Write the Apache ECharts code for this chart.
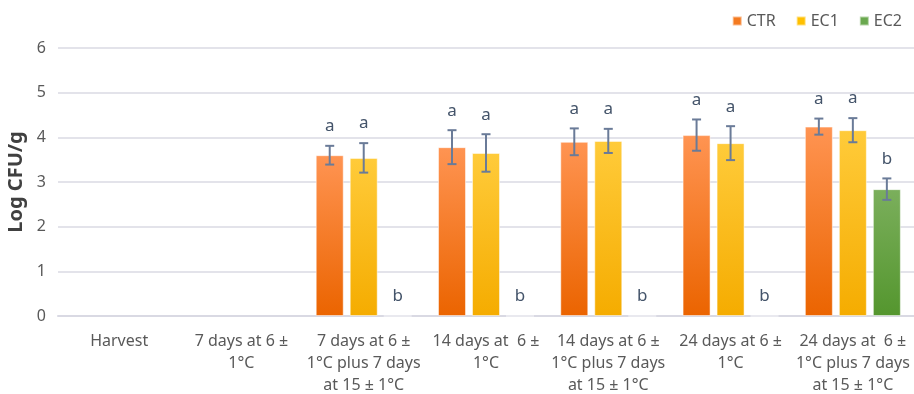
<!DOCTYPE html>
<html><head><meta charset="utf-8">
<script src="https://cdn.jsdelivr.net/npm/echarts@6/dist/echarts.min.js"></script>
<style>html,body{margin:0;padding:0;background:#fff}#c{width:914px;height:394px}</style>
</head><body><div id="c"></div>
<script>
const categories = ['Harvest', '7 days at 6 ±\n1°C', '7 days at 6 ±\n1°C plus 7 days\nat 15 ± 1°C', '14 days at  6 ±\n1°C', '14 days at 6 ±\n1°C plus 7 days\nat 15 ± 1°C', '24 days at 6 ±\n1°C', '24 days at  6 ±\n1°C plus 7 days\nat 15 ± 1°C'];
const seriesNames = ['CTR', 'EC1', 'EC2'];
const ctrValues = [null, null, 3.60, 3.78, 3.90, 4.05, 4.24];
const ec1Values = [null, null, 3.54, 3.65, 3.92, 3.87, 4.16];
const ec2Values = [null, null, 0, 0, 0, 0, 2.84];
const ctrErrors = [null, null, 0.21, 0.38, 0.30, 0.35, 0.18];
const ec1Errors = [null, null, 0.33, 0.42, 0.27, 0.38, 0.27];
const ec2Errors = [null, null, null, null, null, null, 0.24];
const ctrLetters = ['', '', 'a', 'a', 'a', 'a', 'a'];
const ec1Letters = ['', '', 'a', 'a', 'a', 'a', 'a'];
const ec2Letters = ['', '', 'b', 'b', 'b', 'b', 'b'];
const yTicks = [0, 1, 2, 3, 4, 5, 6];

const FONT = "'Noto Sans', sans-serif";
const chart = echarts.init(document.getElementById('c'), null, {renderer: 'canvas'});

function grad(top, bottom) {
  return new echarts.graphic.LinearGradient(0, 0, 0, 1, [{offset: 0, color: top}, {offset: 1, color: bottom}]);
}
const colors = [
  grad('#FF9452', '#EB6400'),
  grad('#FFCB3A', '#F5AC00'),
  grad('#7BAF5C', '#54962E')
];
const legendColors = ['#F47A20', '#FFC000', '#6AA84F'];
const BW = 28, GAP = 6;
const offsets = [-(BW + GAP), 0, BW + GAP];
const valuesAll = [ctrValues, ec1Values, ec2Values];
const errorsAll = [ctrErrors, ec1Errors, ec2Errors];
const lettersAll = [ctrLetters, ec1Letters, ec2Letters];

const series = [];
seriesNames.forEach((name, s) => {
  series.push({
    name, type: 'bar', data: valuesAll[s], barWidth: BW, barGap: (GAP / BW * 100) + '%',
    itemStyle: {color: colors[s], borderColor: 'rgba(255,255,255,0.5)', borderWidth: 1},
    emphasis: {disabled: true}
  });
});
seriesNames.forEach((name, s) => {
  const data = categories.map((c, i) => [i, valuesAll[s][i], errorsAll[s][i], lettersAll[s][i]]);
  series.push({
    type: 'custom', silent: true, z: 10,
    data,
    renderItem(params, api) {
      const i = api.value(0);
      const d = data[params.dataIndex];
      const v = d[1], e = d[2], letter = d[3];
      if (v === null || v === undefined) return null;
      const children = [];
      const base = api.coord([i, v]);
      const x = base[0] + offsets[s];
      let topY = base[1];
      if (e !== null && e !== undefined) {
        const hi = api.coord([i, v + e])[1];
        const lo = api.coord([i, v - e])[1];
        const st = {stroke: '#6A7B98', lineWidth: 2};
        children.push({type: 'line', shape: {x1: x, y1: hi, x2: x, y2: lo}, style: st});
        children.push({type: 'line', shape: {x1: x - 4.5, y1: hi, x2: x + 4.5, y2: hi}, style: st});
        children.push({type: 'line', shape: {x1: x - 4.5, y1: lo, x2: x + 4.5, y2: lo}, style: st});
        topY = hi;
      }
      if (letter) {
        const ty = (v === 0) ? topY - 11 : topY - 11;
        children.push({type: 'text', x: x, y: ty, style: {text: letter, fill: '#44546A', font: '17px ' + FONT, align: 'center', verticalAlign: 'bottom'}});
      }
      return {type: 'group', children};
    }
  });
});

chart.setOption({
  animation: false,
  textStyle: {fontFamily: FONT},
  legend: {
    data: seriesNames.map((n, s) => ({name: n, itemStyle: {color: legendColors[s]}})),
    right: 7, top: 8, itemWidth: 9, itemHeight: 9, itemGap: 20, icon: 'rect',
    textStyle: {color: '#595959', fontSize: 16, fontFamily: FONT}
  },
  grid: {left: 58, right: 0, top: 48, bottom: 78, containLabel: false, outerBoundsMode: 'none'},
  xAxis: {
    type: 'category', data: categories,
    axisLine: {show: true, lineStyle: {color: '#D9D9E3', width: 2}},
    axisTick: {show: false},
    axisLabel: {color: '#595959', fontSize: 16, lineHeight: 22, interval: 0, margin: 14, fontFamily: FONT}
  },
  yAxis: {
    type: 'value', min: 0, max: 6, interval: 1,
    name: 'Log CFU/g', nameLocation: 'middle', nameGap: 31,
    nameTextStyle: {color: '#404040', fontSize: 20, fontWeight: 'bold', fontFamily: FONT},
    axisLabel: {color: '#595959', fontSize: 16, margin: 12, fontFamily: FONT, formatter: v => yTicks.includes(v) ? String(v) : ''},
    splitLine: {lineStyle: {color: '#E3E3EA', width: 2}},
    axisLine: {show: false}, axisTick: {show: false}
  },
  series
});
</script></body></html>
